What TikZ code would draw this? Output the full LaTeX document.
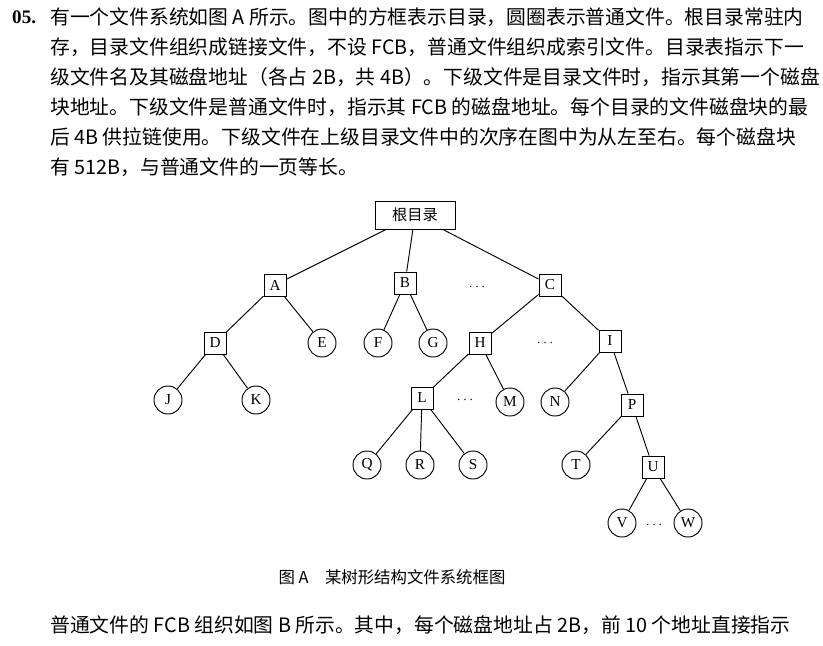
\documentclass[tikz,border=0pt]{standalone}
\usepackage{fontspec}
\setmainfont{Liberation Serif}
\newfontfamily\cjk{Noto Sans CJK SC}
\usetikzlibrary{positioning}
\tikzset{
  dirbox/.style={draw, thick, minimum size=0.66cm, inner sep=0pt, font=\fontsize{13}{13}\selectfont},
  filecirc/.style={draw, thick, circle, minimum size=0.84cm, inner sep=0pt, font=\fontsize{13}{13}\selectfont},
  gap/.style={inner sep=0pt, font=\fontsize{13}{13}\selectfont},
  textline/.style={anchor=west, inner sep=0pt, font=\cjk\fontsize{16.9}{16.9}\selectfont}
}
\begin{document}
\begin{tikzpicture}[x=0.03cm,y=-0.03cm]
\useasboundingbox (0,0) rectangle (823,645);
% The question text
\node [anchor=west, inner sep=0pt, font=\bfseries\fontsize{16.3}{16.3}\selectfont] (num) at (12,17) {05.};
\node [textline] (l1) at (50,17) {有一个文件系统如图 A 所示。图中的方框表示目录，圆圈表示普通文件。根目录常驻内};
\node [textline] (l2) at (50,47) {存，目录文件组织成链接文件，不设 FCB，普通文件组织成索引文件。目录表指示下一};
\node [textline] (l3) at (50,77) {级文件名及其磁盘地址（各占 2B，共 4B）。下级文件是目录文件时，指示其第一个磁盘};
\node [textline] (l4) at (50,107) {块地址。下级文件是普通文件时，指示其 FCB 的磁盘地址。每个目录的文件磁盘块的最};
\node [textline] (l5) at (50,137) {后 4B 供拉链使用。下级文件在上级目录文件中的次序在图中为从左至右。每个磁盘块};
\node [textline] (l6) at (50,167) {有 512B，与普通文件的一页等长。};
% The tree
\node [dirbox, minimum width=2.4cm, minimum height=0.84cm, font=\cjk\fontsize{13}{13}\selectfont] (root) at (415,215) {根目录};
\node [dirbox] (A) at (275,285) {A};
\node [dirbox] (B) at (405,283) {B};
\node [gap] (d1) at (477,287) {$\cdots$};
\node [dirbox] (C) at (550,285) {C};
\node [dirbox] (D) at (215,343) {D};
\node [filecirc] (E) at (322,343) {E};
\node [filecirc] (F) at (378,343) {F};
\node [filecirc] (G) at (433,343) {G};
\node [dirbox] (H) at (480,343) {H};
\node [gap] (d2) at (545,343) {$\cdots$};
\node [dirbox] (I) at (610,341) {I};
\node [filecirc] (J) at (168,400) {J};
\node [filecirc] (K) at (256,400) {K};
\node [dirbox] (L) at (422,398) {L};
\node [gap] (d3) at (465,400) {$\cdots$};
\node [filecirc] (M) at (510,402) {M};
\node [filecirc] (N) at (555,402) {N};
\node [dirbox] (P) at (632,405) {P};
\node [filecirc] (Q) at (367,465) {Q};
\node [filecirc] (R) at (420,465) {R};
\node [filecirc] (S) at (473,465) {S};
\node [filecirc] (T) at (576,465) {T};
\node [dirbox] (U) at (653,467) {U};
\node [filecirc] (V) at (622,523) {V};
\node [gap] (d4) at (654,525) {$\cdots$};
\node [filecirc] (W) at (688,523) {W};
% Connectors
\foreach \p/\c in {root/A, root/B, root/C, A/D, A/E, B/F, B/G, C/H, C/I,
  D/J, D/K, H/L, H/M, I/N, I/P, L/Q, L/R, L/S, P/T, P/U, U/V, U/W}
  \draw [thick] (\p) -- (\c);
% Caption and last line
\node [anchor=center, inner sep=0pt, font=\cjk\fontsize{14}{14}\selectfont] (cap) at (392,577) {图 A\quad 某树形结构文件系统框图};
\node [textline] (l7) at (50,625) {普通文件的 FCB 组织如图 B 所示。其中，每个磁盘地址占 2B，前 10 个地址直接指示};
\end{tikzpicture}
\end{document}
